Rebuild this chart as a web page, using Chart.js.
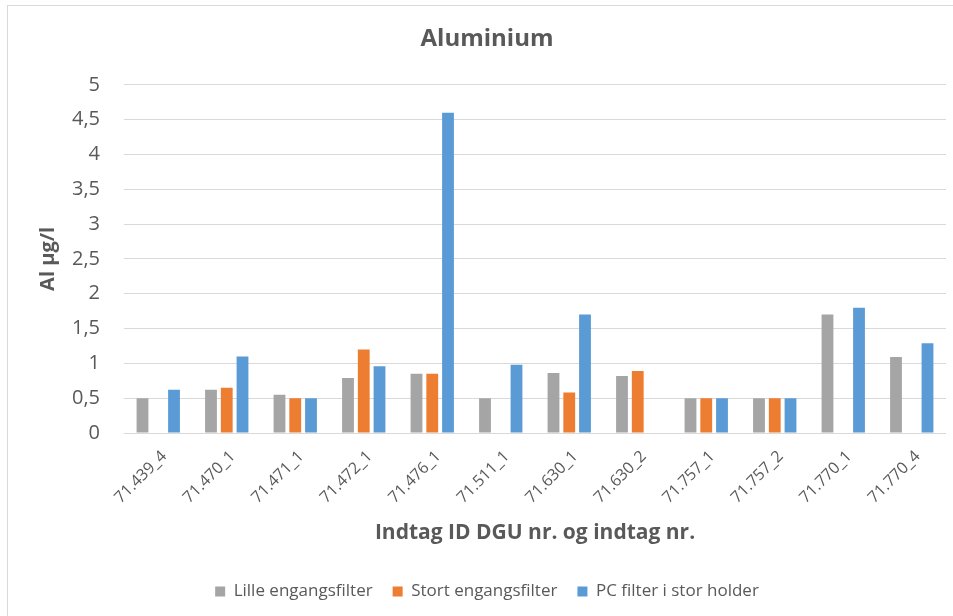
<!DOCTYPE html>
<html>
<head>
<meta charset="utf-8">
<script src="https://cdn.jsdelivr.net/npm/chart.js@4/dist/chart.umd.min.js"></script>
<style>
  html, body { margin: 0; padding: 0; background: #ffffff; }
  #wrap { position: relative; width: 953px; height: 616px; overflow: hidden; }
  #frame { position: absolute; left: 7px; top: 5px; width: 980px; height: 640px;
           border: 1px solid #d9d9d9; box-sizing: border-box; }
  canvas { position: absolute; left: 0; top: 0; }
</style>
</head>
<body>
<div id="wrap">
  <div id="frame"></div>
  <canvas id="c" width="966" height="616"></canvas>
</div>
<script>
// Sampling points: DGU number and intake number
const categories = ['71.439_4', '71.470_1', '71.471_1', '71.472_1', '71.476_1', '71.511_1',
                    '71.630_1', '71.630_2', '71.757_1', '71.757_2', '71.770_1', '71.770_4'];

// Aluminium, µg/l, per filter type (null = not measured)
const lilleEngangsfilter = [0.5, 0.62, 0.55, 0.79, 0.85, 0.5, 0.86, 0.82, 0.5, 0.5, 1.7, 1.09];
const stortEngangsfilter = [null, 0.65, 0.5, 1.2, 0.85, null, 0.58, 0.89, 0.5, 0.5, null, null];
const pcFilterStorHolder = [0.62, 1.1, 0.5, 0.96, 4.6, 0.98, 1.7, null, 0.5, 0.5, 1.8, 1.29];

const yTicks = [0, 0.5, 1, 1.5, 2, 2.5, 3, 3.5, 4, 4.5, 5];

const FONT = '"Open Sans", Lato, sans-serif';
const TEXT = '#595959';

new Chart(document.getElementById('c'), {
  type: 'bar',
  data: {
    labels: categories,
    datasets: [
      { label: 'Lille engangsfilter', data: lilleEngangsfilter, backgroundColor: '#a5a5a5' },
      { label: 'Stort engangsfilter', data: stortEngangsfilter, backgroundColor: '#ed7d31' },
      { label: 'PC filter i stor holder', data: pcFilterStorHolder, backgroundColor: '#5b9bd5' }
    ]
  },
  options: {
    responsive: false,
    animation: false,
    devicePixelRatio: 1,
    layout: { padding: { left: 8, right: 0, top: 0, bottom: 6 } },
    datasets: { bar: { categoryPercentage: 0.69, barPercentage: 0.75 } },
    plugins: {
      title: {
        display: true,
        text: 'Aluminium',
        color: TEXT,
        font: { family: FONT, size: 24, weight: 'bold' },
        padding: { top: 25, bottom: 31 }
      },
      legend: {
        position: 'bottom',
        labels: {
          color: TEXT,
          font: { family: FONT, size: 17 },
          boxWidth: 10, boxHeight: 10,
          padding: 20
        }
      },
      tooltip: { enabled: false }
    },
    scales: {
      x: {
        afterFit: (axis) => { axis.height = 130; },
        grid: { display: false },
        border: { display: false },
        ticks: {
          color: TEXT,
          font: { family: FONT, size: 16 },
          minRotation: 45, maxRotation: 45,
          labelOffset: 6,
          padding: 6
        },
        title: {
          display: true,
          text: 'Indtag ID DGU nr. og indtag nr.',
          color: TEXT,
          font: { family: FONT, size: 21, weight: 'bold' },
          padding: { top: 10, bottom: 17 }
        }
      },
      y: {
        min: 0, max: 5,
        afterBuildTicks: (axis) => { axis.ticks = yTicks.map(v => ({ value: v })); },
        afterFit: (axis) => { axis.width = 116; },
        grid: { color: '#d9d9d9', lineWidth: 1, drawTicks: false },
        border: { display: false },
        ticks: {
          color: TEXT,
          font: { family: FONT, size: 20 },
          padding: 24,
          callback: (v) => String(v).replace('.', ',')
        },
        title: {
          display: true,
          text: 'Al µg/l',
          color: TEXT,
          font: { family: FONT, size: 20, weight: 'bold' },
          padding: { top: 28, bottom: 0 }
        }
      },
      // empty right-hand margin of the plot area
      yRight: {
        position: 'right',
        min: 0, max: 5,
        afterFit: (axis) => { axis.width = 20; },
        grid: { display: false },
        border: { display: false },
        ticks: { display: false }
      }
    }
  }
});
</script>
</body>
</html>
